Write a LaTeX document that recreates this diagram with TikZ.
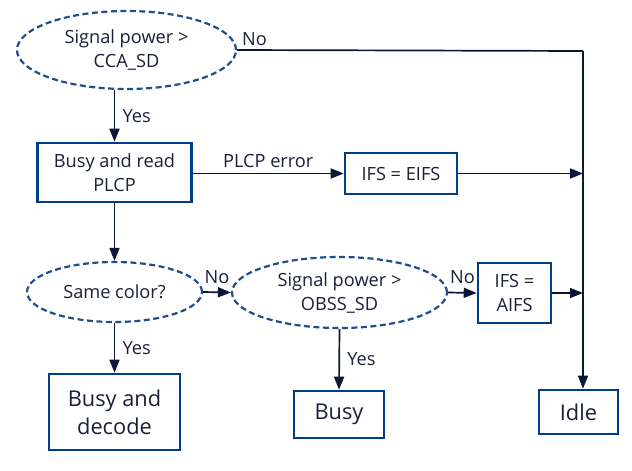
\documentclass[tikz,border=0pt]{standalone}
\usepackage{fontspec}
\setmainfont{Open Sans}
\usetikzlibrary{shapes.geometric,arrows.meta}
\definecolor{boxblue}{HTML}{003C8C}
\definecolor{dashblue}{HTML}{1F4E8C}
\definecolor{linenavy}{HTML}{0B1736}
\definecolor{textnavy}{HTML}{1A1F3A}
\begin{document}
\begin{tikzpicture}[x=1pt,y=-1pt,
  every node/.style={text=textnavy, font=\fontsize{18.2}{24}\selectfont},
  decision/.style={ellipse, draw=dashblue, line width=2.2pt, dash pattern=on 6pt off 3.5pt, inner sep=0pt, align=center},
  procbox/.style={rectangle, draw=boxblue, line width=2.6pt, inner sep=0pt, align=center},
  conn/.style={draw=linenavy, line width=1.7pt},
  arr/.style={conn, -{Triangle[length=13pt,width=10pt]}},
  lbl/.style={inner sep=1pt}
]
\useasboundingbox (0,0) rectangle (632,471);
\node[decision, minimum width=219pt, minimum height=78pt] (e1) at (126.5,50) {Signal power >\\CCA\_SD};
\node[procbox, minimum width=154pt, minimum height=59pt] (b1) at (114.5,172.5) {Busy and read\\PLCP};
\node[procbox, minimum width=112pt, minimum height=41pt] (eifs) at (401,173.5) {IFS = EIFS};
\node[decision, minimum width=175pt, minimum height=60pt] (e2) at (114.5,292) {Same color?};
\node[decision, minimum width=215pt, minimum height=71pt] (e3) at (339.5,292.5) {Signal power >\\OBSS\_SD};
\node[procbox, minimum width=73pt, minimum height=60pt] (aifs) at (514.5,293) {IFS =\\AIFS};
\node[procbox, minimum width=131pt, minimum height=76pt, font=\fontsize{21.8}{28}\selectfont] (bdec) at (114.5,412) {Busy and\\decode};
\node[procbox, minimum width=90pt, minimum height=47pt, font=\fontsize{21.8}{28}\selectfont] (busy) at (339,414.5) {Busy};
\node[procbox, minimum width=79pt, minimum height=44pt, font=\fontsize{21.8}{28}\selectfont] (idle) at (578.5,412) {Idle};
\coordinate (jct) at (583,51);
\draw[conn] (e1.east) -- (jct);
\draw[arr] (jct) -- (jct |- idle.north);
\node[lbl, anchor=south west] at (241,47) {No};
\draw[arr] (e1.south -| b1.north) -- (b1.north) node[midway, right=4pt] {Yes};
\draw[arr] (b1.east |- eifs.west) -- (eifs.west) node[midway, above=2pt] {PLCP error};
\draw[arr] (eifs.east) -- (jct |- eifs.east);
\draw[arr] (b1.south) -- (e2.north);
\draw[arr] (e2.east) -- (e3.west) node[midway, above=4pt] {No};
\draw[arr] (e2.south) -- (bdec.north) node[midway, right=4pt] {Yes};
\draw[arr] (e3.east) -- (aifs.west) node[midway, above=5pt] {No};
\draw[arr] (aifs.east) -- (jct |- aifs.east);
\draw[arr] (e3.south) -- (busy.north) node[midway, right=4pt] {Yes};
\end{tikzpicture}
\end{document}
